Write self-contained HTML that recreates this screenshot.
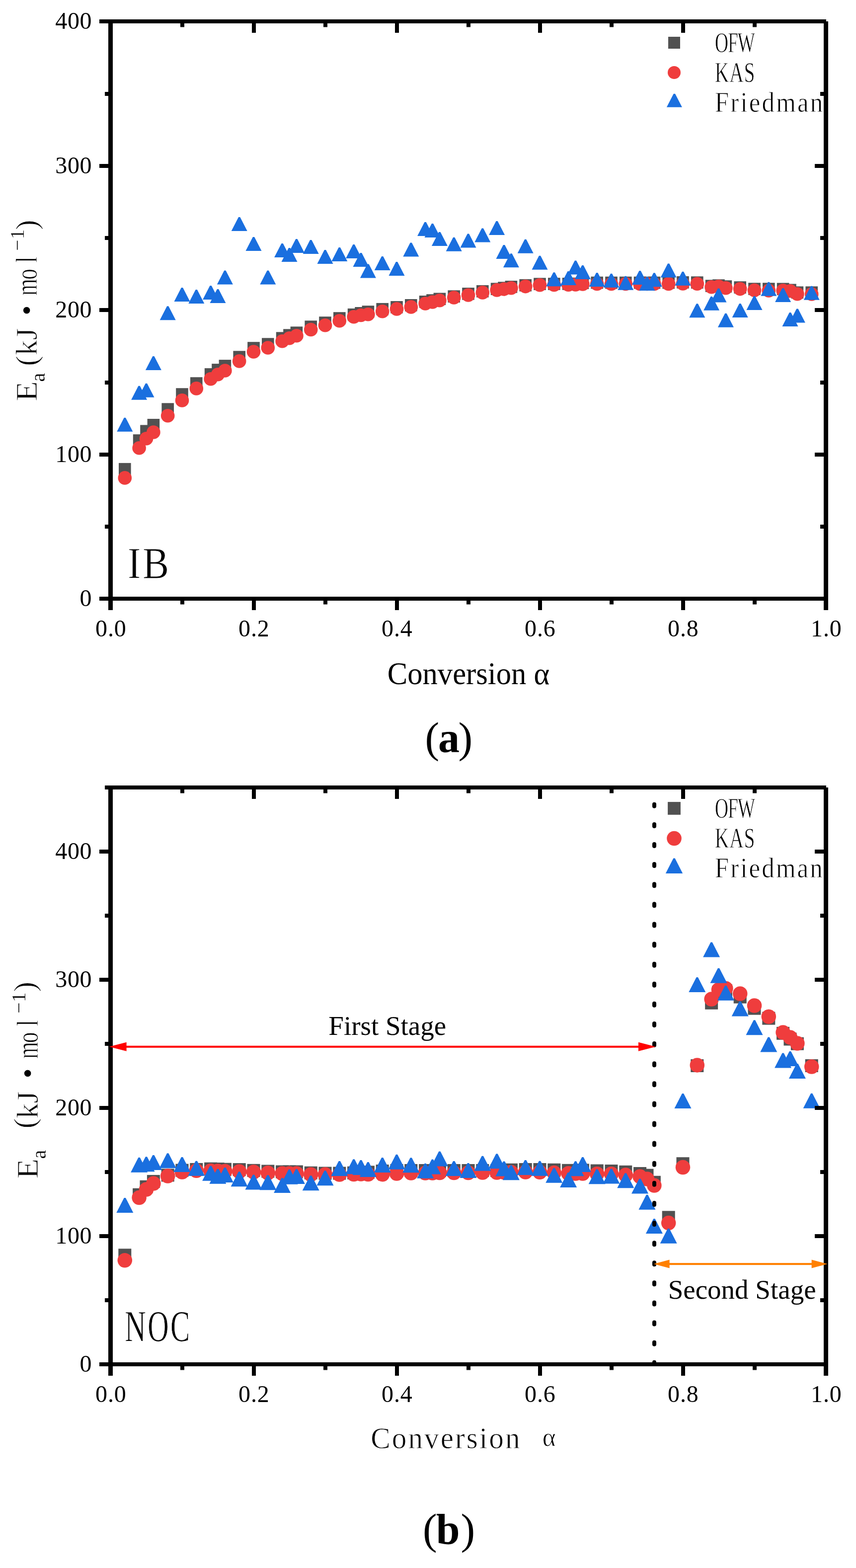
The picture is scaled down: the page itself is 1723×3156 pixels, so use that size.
<!DOCTYPE html>
<html><head><meta charset="utf-8"><title>Activation energy vs conversion</title>
<style>
html,body{margin:0;padding:0;background:#fff;}
svg{display:block;}
text{font-family:'Liberation Serif',serif;fill:#000;}
</style></head>
<body>
<svg width="1723" height="3156" viewBox="0 0 1723 3156">
<rect x="0" y="0" width="1723" height="3156" fill="#fff"/>
<g>
<rect x="239.00" y="931.90" width="24.60" height="24.60" fill="#515151"/>
<rect x="267.80" y="874.20" width="24.60" height="24.60" fill="#515151"/>
<rect x="282.20" y="855.40" width="24.60" height="24.60" fill="#515151"/>
<rect x="296.60" y="843.00" width="24.60" height="24.60" fill="#515151"/>
<rect x="325.40" y="811.30" width="24.60" height="24.60" fill="#515151"/>
<rect x="354.20" y="781.20" width="24.60" height="24.60" fill="#515151"/>
<rect x="383.00" y="759.20" width="24.60" height="24.60" fill="#515151"/>
<rect x="411.80" y="741.10" width="24.60" height="24.60" fill="#515151"/>
<rect x="426.20" y="732.10" width="24.60" height="24.60" fill="#515151"/>
<rect x="440.60" y="724.10" width="24.60" height="24.60" fill="#515151"/>
<rect x="469.40" y="706.30" width="24.60" height="24.60" fill="#515151"/>
<rect x="498.20" y="688.20" width="24.60" height="24.60" fill="#515151"/>
<rect x="527.00" y="680.30" width="24.60" height="24.60" fill="#515151"/>
<rect x="555.80" y="668.30" width="24.60" height="24.60" fill="#515151"/>
<rect x="570.20" y="662.30" width="24.60" height="24.60" fill="#515151"/>
<rect x="584.60" y="657.30" width="24.60" height="24.60" fill="#515151"/>
<rect x="613.40" y="645.30" width="24.60" height="24.60" fill="#515151"/>
<rect x="642.20" y="637.20" width="24.60" height="24.60" fill="#515151"/>
<rect x="671.00" y="628.20" width="24.60" height="24.60" fill="#515151"/>
<rect x="699.80" y="620.90" width="24.60" height="24.60" fill="#515151"/>
<rect x="714.20" y="618.00" width="24.60" height="24.60" fill="#515151"/>
<rect x="728.60" y="615.20" width="24.60" height="24.60" fill="#515151"/>
<rect x="757.40" y="609.90" width="24.60" height="24.60" fill="#515151"/>
<rect x="786.20" y="606.00" width="24.60" height="24.60" fill="#515151"/>
<rect x="815.00" y="602.00" width="24.60" height="24.60" fill="#515151"/>
<rect x="843.80" y="595.00" width="24.60" height="24.60" fill="#515151"/>
<rect x="858.20" y="592.20" width="24.60" height="24.60" fill="#515151"/>
<rect x="872.60" y="589.40" width="24.60" height="24.60" fill="#515151"/>
<rect x="901.40" y="584.30" width="24.60" height="24.60" fill="#515151"/>
<rect x="930.20" y="579.00" width="24.60" height="24.60" fill="#515151"/>
<rect x="959.00" y="574.00" width="24.60" height="24.60" fill="#515151"/>
<rect x="987.80" y="569.30" width="24.60" height="24.60" fill="#515151"/>
<rect x="1002.20" y="567.20" width="24.60" height="24.60" fill="#515151"/>
<rect x="1016.60" y="565.00" width="24.60" height="24.60" fill="#515151"/>
<rect x="1045.40" y="561.90" width="24.60" height="24.60" fill="#515151"/>
<rect x="1074.20" y="559.30" width="24.60" height="24.60" fill="#515151"/>
<rect x="1103.00" y="559.10" width="24.60" height="24.60" fill="#515151"/>
<rect x="1131.80" y="559.00" width="24.60" height="24.60" fill="#515151"/>
<rect x="1146.20" y="558.70" width="24.60" height="24.60" fill="#515151"/>
<rect x="1160.60" y="557.20" width="24.60" height="24.60" fill="#515151"/>
<rect x="1189.40" y="556.70" width="24.60" height="24.60" fill="#515151"/>
<rect x="1218.20" y="556.70" width="24.60" height="24.60" fill="#515151"/>
<rect x="1247.00" y="556.70" width="24.60" height="24.60" fill="#515151"/>
<rect x="1275.80" y="556.70" width="24.60" height="24.60" fill="#515151"/>
<rect x="1290.20" y="556.70" width="24.60" height="24.60" fill="#515151"/>
<rect x="1304.60" y="556.70" width="24.60" height="24.60" fill="#515151"/>
<rect x="1333.40" y="556.70" width="24.60" height="24.60" fill="#515151"/>
<rect x="1362.20" y="556.00" width="24.60" height="24.60" fill="#515151"/>
<rect x="1391.00" y="556.30" width="24.60" height="24.60" fill="#515151"/>
<rect x="1419.80" y="563.20" width="24.60" height="24.60" fill="#515151"/>
<rect x="1434.20" y="562.20" width="24.60" height="24.60" fill="#515151"/>
<rect x="1448.60" y="564.20" width="24.60" height="24.60" fill="#515151"/>
<rect x="1477.40" y="566.20" width="24.60" height="24.60" fill="#515151"/>
<rect x="1506.20" y="569.20" width="24.60" height="24.60" fill="#515151"/>
<rect x="1535.00" y="569.20" width="24.60" height="24.60" fill="#515151"/>
<rect x="1563.80" y="569.40" width="24.60" height="24.60" fill="#515151"/>
<rect x="1578.20" y="571.40" width="24.60" height="24.60" fill="#515151"/>
<rect x="1592.60" y="576.40" width="24.60" height="24.60" fill="#515151"/>
<rect x="1621.40" y="576.40" width="24.60" height="24.60" fill="#515151"/>
<circle cx="251.30" cy="961.90" r="13.80" fill="#ef3d3d"/>
<circle cx="280.10" cy="901.80" r="13.80" fill="#ef3d3d"/>
<circle cx="294.50" cy="882.80" r="13.80" fill="#ef3d3d"/>
<circle cx="308.90" cy="870.00" r="13.80" fill="#ef3d3d"/>
<circle cx="337.70" cy="836.70" r="13.80" fill="#ef3d3d"/>
<circle cx="366.50" cy="805.90" r="13.80" fill="#ef3d3d"/>
<circle cx="395.30" cy="781.90" r="13.80" fill="#ef3d3d"/>
<circle cx="424.10" cy="762.80" r="13.80" fill="#ef3d3d"/>
<circle cx="438.50" cy="753.80" r="13.80" fill="#ef3d3d"/>
<circle cx="452.90" cy="746.00" r="13.80" fill="#ef3d3d"/>
<circle cx="481.70" cy="726.90" r="13.80" fill="#ef3d3d"/>
<circle cx="510.50" cy="708.00" r="13.80" fill="#ef3d3d"/>
<circle cx="539.30" cy="700.00" r="13.80" fill="#ef3d3d"/>
<circle cx="568.10" cy="686.70" r="13.80" fill="#ef3d3d"/>
<circle cx="582.50" cy="680.70" r="13.80" fill="#ef3d3d"/>
<circle cx="596.90" cy="675.70" r="13.80" fill="#ef3d3d"/>
<circle cx="625.70" cy="663.50" r="13.80" fill="#ef3d3d"/>
<circle cx="654.50" cy="654.70" r="13.80" fill="#ef3d3d"/>
<circle cx="683.30" cy="645.70" r="13.80" fill="#ef3d3d"/>
<circle cx="712.10" cy="637.80" r="13.80" fill="#ef3d3d"/>
<circle cx="726.50" cy="634.50" r="13.80" fill="#ef3d3d"/>
<circle cx="740.90" cy="632.80" r="13.80" fill="#ef3d3d"/>
<circle cx="769.70" cy="626.80" r="13.80" fill="#ef3d3d"/>
<circle cx="798.50" cy="621.90" r="13.80" fill="#ef3d3d"/>
<circle cx="827.30" cy="617.90" r="13.80" fill="#ef3d3d"/>
<circle cx="856.10" cy="611.00" r="13.80" fill="#ef3d3d"/>
<circle cx="870.50" cy="608.00" r="13.80" fill="#ef3d3d"/>
<circle cx="884.90" cy="604.80" r="13.80" fill="#ef3d3d"/>
<circle cx="913.70" cy="599.00" r="13.80" fill="#ef3d3d"/>
<circle cx="942.50" cy="594.00" r="13.80" fill="#ef3d3d"/>
<circle cx="971.30" cy="588.90" r="13.80" fill="#ef3d3d"/>
<circle cx="1000.10" cy="583.90" r="13.80" fill="#ef3d3d"/>
<circle cx="1014.50" cy="582.00" r="13.80" fill="#ef3d3d"/>
<circle cx="1028.90" cy="579.70" r="13.80" fill="#ef3d3d"/>
<circle cx="1057.70" cy="576.60" r="13.80" fill="#ef3d3d"/>
<circle cx="1086.50" cy="573.80" r="13.80" fill="#ef3d3d"/>
<circle cx="1115.30" cy="573.50" r="13.80" fill="#ef3d3d"/>
<circle cx="1144.10" cy="573.30" r="13.80" fill="#ef3d3d"/>
<circle cx="1158.50" cy="573.00" r="13.80" fill="#ef3d3d"/>
<circle cx="1172.90" cy="572.00" r="13.80" fill="#ef3d3d"/>
<circle cx="1201.70" cy="571.50" r="13.80" fill="#ef3d3d"/>
<circle cx="1230.50" cy="571.50" r="13.80" fill="#ef3d3d"/>
<circle cx="1259.30" cy="571.50" r="13.80" fill="#ef3d3d"/>
<circle cx="1288.10" cy="571.50" r="13.80" fill="#ef3d3d"/>
<circle cx="1302.50" cy="571.50" r="13.80" fill="#ef3d3d"/>
<circle cx="1316.90" cy="571.50" r="13.80" fill="#ef3d3d"/>
<circle cx="1345.70" cy="571.40" r="13.80" fill="#ef3d3d"/>
<circle cx="1374.50" cy="571.00" r="13.80" fill="#ef3d3d"/>
<circle cx="1403.30" cy="571.20" r="13.80" fill="#ef3d3d"/>
<circle cx="1432.10" cy="577.80" r="13.80" fill="#ef3d3d"/>
<circle cx="1446.50" cy="576.50" r="13.80" fill="#ef3d3d"/>
<circle cx="1460.90" cy="579.80" r="13.80" fill="#ef3d3d"/>
<circle cx="1489.70" cy="581.60" r="13.80" fill="#ef3d3d"/>
<circle cx="1518.50" cy="584.30" r="13.80" fill="#ef3d3d"/>
<circle cx="1547.30" cy="585.00" r="13.80" fill="#ef3d3d"/>
<circle cx="1576.10" cy="584.70" r="13.80" fill="#ef3d3d"/>
<circle cx="1590.50" cy="585.70" r="13.80" fill="#ef3d3d"/>
<circle cx="1604.90" cy="591.70" r="13.80" fill="#ef3d3d"/>
<circle cx="1633.70" cy="592.00" r="13.80" fill="#ef3d3d"/>
<path d="M249.70 840.70L252.90 840.70L267.30 868.70L235.30 868.70Z" fill="#1a6fdf"/>
<path d="M278.50 776.80L281.70 776.80L296.10 804.80L264.10 804.80Z" fill="#1a6fdf"/>
<path d="M292.90 771.80L296.10 771.80L310.50 799.80L278.50 799.80Z" fill="#1a6fdf"/>
<path d="M307.30 717.10L310.50 717.10L324.90 745.10L292.90 745.10Z" fill="#1a6fdf"/>
<path d="M336.10 616.30L339.30 616.30L353.70 644.30L321.70 644.30Z" fill="#1a6fdf"/>
<path d="M364.90 579.00L368.10 579.00L382.50 607.00L350.50 607.00Z" fill="#1a6fdf"/>
<path d="M393.70 583.00L396.90 583.00L411.30 611.00L379.30 611.00Z" fill="#1a6fdf"/>
<path d="M422.50 575.00L425.70 575.00L440.10 603.00L408.10 603.00Z" fill="#1a6fdf"/>
<path d="M436.90 582.00L440.10 582.00L454.50 610.00L422.50 610.00Z" fill="#1a6fdf"/>
<path d="M451.30 544.50L454.50 544.50L468.90 572.50L436.90 572.50Z" fill="#1a6fdf"/>
<path d="M480.10 437.00L483.30 437.00L497.70 465.00L465.70 465.00Z" fill="#1a6fdf"/>
<path d="M508.90 477.00L512.10 477.00L526.50 505.00L494.50 505.00Z" fill="#1a6fdf"/>
<path d="M537.70 544.50L540.90 544.50L555.30 572.50L523.30 572.50Z" fill="#1a6fdf"/>
<path d="M566.50 490.00L569.70 490.00L584.10 518.00L552.10 518.00Z" fill="#1a6fdf"/>
<path d="M580.90 499.00L584.10 499.00L598.50 527.00L566.50 527.00Z" fill="#1a6fdf"/>
<path d="M595.30 481.00L598.50 481.00L612.90 509.00L580.90 509.00Z" fill="#1a6fdf"/>
<path d="M624.10 483.00L627.30 483.00L641.70 511.00L609.70 511.00Z" fill="#1a6fdf"/>
<path d="M652.90 503.00L656.10 503.00L670.50 531.00L638.50 531.00Z" fill="#1a6fdf"/>
<path d="M681.70 498.00L684.90 498.00L699.30 526.00L667.30 526.00Z" fill="#1a6fdf"/>
<path d="M710.50 492.00L713.70 492.00L728.10 520.00L696.10 520.00Z" fill="#1a6fdf"/>
<path d="M724.90 509.00L728.10 509.00L742.50 537.00L710.50 537.00Z" fill="#1a6fdf"/>
<path d="M739.30 531.50L742.50 531.50L756.90 559.50L724.90 559.50Z" fill="#1a6fdf"/>
<path d="M768.10 516.00L771.30 516.00L785.70 544.00L753.70 544.00Z" fill="#1a6fdf"/>
<path d="M796.90 527.00L800.10 527.00L814.50 555.00L782.50 555.00Z" fill="#1a6fdf"/>
<path d="M825.70 488.50L828.90 488.50L843.30 516.50L811.30 516.50Z" fill="#1a6fdf"/>
<path d="M854.50 447.00L857.70 447.00L872.10 475.00L840.10 475.00Z" fill="#1a6fdf"/>
<path d="M868.90 450.00L872.10 450.00L886.50 478.00L854.50 478.00Z" fill="#1a6fdf"/>
<path d="M883.30 467.00L886.50 467.00L900.90 495.00L868.90 495.00Z" fill="#1a6fdf"/>
<path d="M912.10 477.80L915.30 477.80L929.70 505.80L897.70 505.80Z" fill="#1a6fdf"/>
<path d="M940.90 470.50L944.10 470.50L958.50 498.50L926.50 498.50Z" fill="#1a6fdf"/>
<path d="M969.70 459.40L972.90 459.40L987.30 487.40L955.30 487.40Z" fill="#1a6fdf"/>
<path d="M998.50 445.00L1001.70 445.00L1016.10 473.00L984.10 473.00Z" fill="#1a6fdf"/>
<path d="M1012.90 493.00L1016.10 493.00L1030.50 521.00L998.50 521.00Z" fill="#1a6fdf"/>
<path d="M1027.30 510.30L1030.50 510.30L1044.90 538.30L1012.90 538.30Z" fill="#1a6fdf"/>
<path d="M1056.10 481.80L1059.30 481.80L1073.70 509.80L1041.70 509.80Z" fill="#1a6fdf"/>
<path d="M1084.90 514.80L1088.10 514.80L1102.50 542.80L1070.50 542.80Z" fill="#1a6fdf"/>
<path d="M1113.70 548.20L1116.90 548.20L1131.30 576.20L1099.30 576.20Z" fill="#1a6fdf"/>
<path d="M1142.50 546.00L1145.70 546.00L1160.10 574.00L1128.10 574.00Z" fill="#1a6fdf"/>
<path d="M1156.90 524.50L1160.10 524.50L1174.50 552.50L1142.50 552.50Z" fill="#1a6fdf"/>
<path d="M1171.30 534.00L1174.50 534.00L1188.90 562.00L1156.90 562.00Z" fill="#1a6fdf"/>
<path d="M1200.10 549.00L1203.30 549.00L1217.70 577.00L1185.70 577.00Z" fill="#1a6fdf"/>
<path d="M1228.90 550.80L1232.10 550.80L1246.50 578.80L1214.50 578.80Z" fill="#1a6fdf"/>
<path d="M1257.70 555.80L1260.90 555.80L1275.30 583.80L1243.30 583.80Z" fill="#1a6fdf"/>
<path d="M1286.50 545.00L1289.70 545.00L1304.10 573.00L1272.10 573.00Z" fill="#1a6fdf"/>
<path d="M1300.90 556.90L1304.10 556.90L1318.50 584.90L1286.50 584.90Z" fill="#1a6fdf"/>
<path d="M1315.30 549.20L1318.50 549.20L1332.90 577.20L1300.90 577.20Z" fill="#1a6fdf"/>
<path d="M1344.10 530.60L1347.30 530.60L1361.70 558.60L1329.70 558.60Z" fill="#1a6fdf"/>
<path d="M1372.90 546.80L1376.10 546.80L1390.50 574.80L1358.50 574.80Z" fill="#1a6fdf"/>
<path d="M1401.70 611.30L1404.90 611.30L1419.30 639.30L1387.30 639.30Z" fill="#1a6fdf"/>
<path d="M1430.50 596.70L1433.70 596.70L1448.10 624.70L1416.10 624.70Z" fill="#1a6fdf"/>
<path d="M1444.90 580.50L1448.10 580.50L1462.50 608.50L1430.50 608.50Z" fill="#1a6fdf"/>
<path d="M1459.30 630.80L1462.50 630.80L1476.90 658.80L1444.90 658.80Z" fill="#1a6fdf"/>
<path d="M1488.10 610.90L1491.30 610.90L1505.70 638.90L1473.70 638.90Z" fill="#1a6fdf"/>
<path d="M1516.90 596.00L1520.10 596.00L1534.50 624.00L1502.50 624.00Z" fill="#1a6fdf"/>
<path d="M1545.70 567.80L1548.90 567.80L1563.30 595.80L1531.30 595.80Z" fill="#1a6fdf"/>
<path d="M1574.50 580.00L1577.70 580.00L1592.10 608.00L1560.10 608.00Z" fill="#1a6fdf"/>
<path d="M1588.90 629.00L1592.10 629.00L1606.50 657.00L1574.50 657.00Z" fill="#1a6fdf"/>
<path d="M1603.30 621.40L1606.50 621.40L1620.90 649.40L1588.90 649.40Z" fill="#1a6fdf"/>
<path d="M1632.10 575.80L1635.30 575.80L1649.70 603.80L1617.70 603.80Z" fill="#1a6fdf"/>
</g>
<rect x="218.00" y="39.00" width="1445.00" height="8.00" fill="#000"/>
<rect x="218.00" y="1201.00" width="1449.00" height="8.00" fill="#000"/>
<rect x="218.00" y="39.00" width="9.00" height="1170.00" fill="#000"/>
<rect x="1658.00" y="43.00" width="9.00" height="1166.00" fill="#000"/>
<rect x="200.00" y="1201.00" width="18.00" height="8.00" fill="#000"/>
<rect x="1640.00" y="1201.00" width="18.00" height="8.00" fill="#000"/>
<rect x="211.00" y="1056.00" width="7.00" height="8.00" fill="#000"/>
<rect x="1651.00" y="1056.00" width="7.00" height="8.00" fill="#000"/>
<rect x="200.00" y="911.00" width="18.00" height="8.00" fill="#000"/>
<rect x="1640.00" y="911.00" width="18.00" height="8.00" fill="#000"/>
<rect x="211.00" y="766.00" width="7.00" height="8.00" fill="#000"/>
<rect x="1651.00" y="766.00" width="7.00" height="8.00" fill="#000"/>
<rect x="200.00" y="620.00" width="18.00" height="8.00" fill="#000"/>
<rect x="1640.00" y="620.00" width="18.00" height="8.00" fill="#000"/>
<rect x="211.00" y="475.00" width="7.00" height="8.00" fill="#000"/>
<rect x="1651.00" y="475.00" width="7.00" height="8.00" fill="#000"/>
<rect x="200.00" y="330.00" width="18.00" height="8.00" fill="#000"/>
<rect x="1640.00" y="330.00" width="18.00" height="8.00" fill="#000"/>
<rect x="211.00" y="185.00" width="7.00" height="8.00" fill="#000"/>
<rect x="1651.00" y="185.00" width="7.00" height="8.00" fill="#000"/>
<rect x="200.00" y="39.00" width="18.00" height="8.00" fill="#000"/>
<rect x="1640.00" y="39.00" width="18.00" height="8.00" fill="#000"/>
<rect x="218.00" y="1209.00" width="9.00" height="19.00" fill="#000"/>
<rect x="218.00" y="47.00" width="9.00" height="19.00" fill="#000"/>
<rect x="363.00" y="1209.00" width="8.00" height="7.50" fill="#000"/>
<rect x="363.00" y="47.00" width="8.00" height="7.50" fill="#000"/>
<rect x="507.00" y="1209.00" width="8.00" height="19.00" fill="#000"/>
<rect x="507.00" y="47.00" width="8.00" height="19.00" fill="#000"/>
<rect x="651.00" y="1209.00" width="8.00" height="7.50" fill="#000"/>
<rect x="651.00" y="47.00" width="8.00" height="7.50" fill="#000"/>
<rect x="795.00" y="1209.00" width="8.00" height="19.00" fill="#000"/>
<rect x="795.00" y="47.00" width="8.00" height="19.00" fill="#000"/>
<rect x="939.00" y="1209.00" width="8.00" height="7.50" fill="#000"/>
<rect x="939.00" y="47.00" width="8.00" height="7.50" fill="#000"/>
<rect x="1083.00" y="1209.00" width="8.00" height="19.00" fill="#000"/>
<rect x="1083.00" y="47.00" width="8.00" height="19.00" fill="#000"/>
<rect x="1227.00" y="1209.00" width="8.00" height="7.50" fill="#000"/>
<rect x="1227.00" y="47.00" width="8.00" height="7.50" fill="#000"/>
<rect x="1371.00" y="1209.00" width="8.00" height="19.00" fill="#000"/>
<rect x="1371.00" y="47.00" width="8.00" height="19.00" fill="#000"/>
<rect x="1515.00" y="1209.00" width="8.00" height="7.50" fill="#000"/>
<rect x="1515.00" y="47.00" width="8.00" height="7.50" fill="#000"/>
<rect x="1658.00" y="1209.00" width="9.00" height="19.00" fill="#000"/>
<rect x="1658.00" y="47.00" width="9.00" height="19.00" fill="#000"/>
<text x="185.3" y="1220.4" font-size="48" letter-spacing="0.7" text-anchor="end">0</text>
<text x="185.3" y="929.9" font-size="48" letter-spacing="0.7" text-anchor="end">100</text>
<text x="185.3" y="639.4" font-size="48" letter-spacing="0.7" text-anchor="end">200</text>
<text x="185.3" y="348.9" font-size="48" letter-spacing="0.7" text-anchor="end">300</text>
<text x="185.3" y="58.4" font-size="48" letter-spacing="0.7" text-anchor="end">400</text>
<text x="223.4" y="1280.8" font-size="48" letter-spacing="0.9" text-anchor="middle">0.0</text>
<text x="511.4" y="1280.8" font-size="48" letter-spacing="0.9" text-anchor="middle">0.2</text>
<text x="799.4" y="1280.8" font-size="48" letter-spacing="0.9" text-anchor="middle">0.4</text>
<text x="1087.4" y="1280.8" font-size="48" letter-spacing="0.9" text-anchor="middle">0.6</text>
<text x="1375.4" y="1280.8" font-size="48" letter-spacing="0.9" text-anchor="middle">0.8</text>
<text x="1663.4" y="1280.8" font-size="48" letter-spacing="0.9" text-anchor="middle">1.0</text>
<rect x="1345.00" y="74.00" width="24.00" height="24.00" fill="#515151"/>
<circle cx="1357.00" cy="146.00" r="13.00" fill="#ef3d3d"/>
<path d="M1355.80 188.70L1359.00 188.70L1372.90 215.70L1341.90 215.70Z" fill="#1a6fdf"/>
<text transform="scale(0.66,1)" x="2180.41 2219.57 2249.36" y="105.1" font-size="56.5" stroke="#fff" stroke-width="0.9">OFW</text>
<text transform="scale(0.7,1)" x="2055.52 2097.37 2139.22" y="165.1" font-size="56.5" stroke="#fff" stroke-width="0.9">KAS</text>
<text transform="scale(0.9,1)" x="1598.71 1633.69 1656.07 1675.33 1703.97 1735.79 1783.3 1811.94" y="225.4" font-size="56.5" stroke="#fff" stroke-width="0.9">Friedman</text>
<text transform="scale(0.9,1)" x="285.69 318.85" y="1163.0" font-size="88.5" stroke="#fff" stroke-width="0.9">IB</text>
<text transform="translate(943,1376.8) scale(0.97,1)" x="0" y="0" font-size="62.5" text-anchor="middle">Conversion α</text>
<text x="855.5 882.1 922.6" y="1514.2" font-size="86">(<tspan font-weight="bold">a</tspan>)</text>
<g>
<rect x="238.30" y="2513.30" width="26.00" height="26.00" fill="#515151"/>
<rect x="267.10" y="2391.70" width="26.00" height="26.00" fill="#515151"/>
<rect x="281.50" y="2375.70" width="26.00" height="26.00" fill="#515151"/>
<rect x="295.90" y="2364.90" width="26.00" height="26.00" fill="#515151"/>
<rect x="324.70" y="2352.40" width="26.00" height="26.00" fill="#515151"/>
<rect x="353.50" y="2342.60" width="26.00" height="26.00" fill="#515151"/>
<rect x="382.30" y="2340.90" width="26.00" height="26.00" fill="#515151"/>
<rect x="411.10" y="2339.60" width="26.00" height="26.00" fill="#515151"/>
<rect x="425.50" y="2340.00" width="26.00" height="26.00" fill="#515151"/>
<rect x="439.90" y="2340.60" width="26.00" height="26.00" fill="#515151"/>
<rect x="468.70" y="2341.10" width="26.00" height="26.00" fill="#515151"/>
<rect x="497.50" y="2342.80" width="26.00" height="26.00" fill="#515151"/>
<rect x="526.30" y="2344.50" width="26.00" height="26.00" fill="#515151"/>
<rect x="555.10" y="2345.50" width="26.00" height="26.00" fill="#515151"/>
<rect x="569.50" y="2345.50" width="26.00" height="26.00" fill="#515151"/>
<rect x="583.90" y="2345.50" width="26.00" height="26.00" fill="#515151"/>
<rect x="612.70" y="2347.70" width="26.00" height="26.00" fill="#515151"/>
<rect x="641.50" y="2348.50" width="26.00" height="26.00" fill="#515151"/>
<rect x="670.30" y="2348.50" width="26.00" height="26.00" fill="#515151"/>
<rect x="699.10" y="2347.70" width="26.00" height="26.00" fill="#515151"/>
<rect x="713.50" y="2347.00" width="26.00" height="26.00" fill="#515151"/>
<rect x="727.90" y="2346.40" width="26.00" height="26.00" fill="#515151"/>
<rect x="756.70" y="2344.00" width="26.00" height="26.00" fill="#515151"/>
<rect x="785.50" y="2343.00" width="26.00" height="26.00" fill="#515151"/>
<rect x="814.30" y="2343.00" width="26.00" height="26.00" fill="#515151"/>
<rect x="843.10" y="2343.00" width="26.00" height="26.00" fill="#515151"/>
<rect x="857.50" y="2343.00" width="26.00" height="26.00" fill="#515151"/>
<rect x="871.90" y="2343.00" width="26.00" height="26.00" fill="#515151"/>
<rect x="900.70" y="2343.00" width="26.00" height="26.00" fill="#515151"/>
<rect x="929.50" y="2343.00" width="26.00" height="26.00" fill="#515151"/>
<rect x="958.30" y="2343.00" width="26.00" height="26.00" fill="#515151"/>
<rect x="987.10" y="2343.00" width="26.00" height="26.00" fill="#515151"/>
<rect x="1001.50" y="2342.00" width="26.00" height="26.00" fill="#515151"/>
<rect x="1015.90" y="2341.70" width="26.00" height="26.00" fill="#515151"/>
<rect x="1044.70" y="2341.00" width="26.00" height="26.00" fill="#515151"/>
<rect x="1073.50" y="2341.00" width="26.00" height="26.00" fill="#515151"/>
<rect x="1102.30" y="2341.70" width="26.00" height="26.00" fill="#515151"/>
<rect x="1131.10" y="2342.80" width="26.00" height="26.00" fill="#515151"/>
<rect x="1145.50" y="2343.00" width="26.00" height="26.00" fill="#515151"/>
<rect x="1159.90" y="2342.40" width="26.00" height="26.00" fill="#515151"/>
<rect x="1188.70" y="2343.50" width="26.00" height="26.00" fill="#515151"/>
<rect x="1217.50" y="2344.00" width="26.00" height="26.00" fill="#515151"/>
<rect x="1246.30" y="2345.80" width="26.00" height="26.00" fill="#515151"/>
<rect x="1275.10" y="2349.00" width="26.00" height="26.00" fill="#515151"/>
<rect x="1289.50" y="2352.60" width="26.00" height="26.00" fill="#515151"/>
<rect x="1303.90" y="2366.70" width="26.00" height="26.00" fill="#515151"/>
<rect x="1332.70" y="2437.30" width="26.00" height="26.00" fill="#515151"/>
<rect x="1361.50" y="2329.20" width="26.00" height="26.00" fill="#515151"/>
<rect x="1390.30" y="2132.00" width="26.00" height="26.00" fill="#515151"/>
<rect x="1419.10" y="2005.70" width="26.00" height="26.00" fill="#515151"/>
<rect x="1433.50" y="1984.00" width="26.00" height="26.00" fill="#515151"/>
<rect x="1447.90" y="1981.00" width="26.00" height="26.00" fill="#515151"/>
<rect x="1476.70" y="1993.60" width="26.00" height="26.00" fill="#515151"/>
<rect x="1505.50" y="2016.60" width="26.00" height="26.00" fill="#515151"/>
<rect x="1534.30" y="2036.60" width="26.00" height="26.00" fill="#515151"/>
<rect x="1563.10" y="2066.80" width="26.00" height="26.00" fill="#515151"/>
<rect x="1577.50" y="2078.50" width="26.00" height="26.00" fill="#515151"/>
<rect x="1591.90" y="2087.70" width="26.00" height="26.00" fill="#515151"/>
<rect x="1620.70" y="2132.00" width="26.00" height="26.00" fill="#515151"/>
<circle cx="251.30" cy="2536.70" r="14.75" fill="#ef3d3d"/>
<circle cx="280.10" cy="2410.50" r="14.75" fill="#ef3d3d"/>
<circle cx="294.50" cy="2394.00" r="14.75" fill="#ef3d3d"/>
<circle cx="308.90" cy="2382.00" r="14.75" fill="#ef3d3d"/>
<circle cx="337.70" cy="2367.00" r="14.75" fill="#ef3d3d"/>
<circle cx="366.50" cy="2359.00" r="14.75" fill="#ef3d3d"/>
<circle cx="395.30" cy="2356.30" r="14.75" fill="#ef3d3d"/>
<circle cx="424.10" cy="2356.60" r="14.75" fill="#ef3d3d"/>
<circle cx="438.50" cy="2357.00" r="14.75" fill="#ef3d3d"/>
<circle cx="452.90" cy="2357.50" r="14.75" fill="#ef3d3d"/>
<circle cx="481.70" cy="2358.00" r="14.75" fill="#ef3d3d"/>
<circle cx="510.50" cy="2359.00" r="14.75" fill="#ef3d3d"/>
<circle cx="539.30" cy="2360.70" r="14.75" fill="#ef3d3d"/>
<circle cx="568.10" cy="2362.00" r="14.75" fill="#ef3d3d"/>
<circle cx="582.50" cy="2362.00" r="14.75" fill="#ef3d3d"/>
<circle cx="596.90" cy="2362.00" r="14.75" fill="#ef3d3d"/>
<circle cx="625.70" cy="2364.00" r="14.75" fill="#ef3d3d"/>
<circle cx="654.50" cy="2364.10" r="14.75" fill="#ef3d3d"/>
<circle cx="683.30" cy="2364.00" r="14.75" fill="#ef3d3d"/>
<circle cx="712.10" cy="2363.50" r="14.75" fill="#ef3d3d"/>
<circle cx="726.50" cy="2363.00" r="14.75" fill="#ef3d3d"/>
<circle cx="740.90" cy="2363.50" r="14.75" fill="#ef3d3d"/>
<circle cx="769.70" cy="2363.70" r="14.75" fill="#ef3d3d"/>
<circle cx="798.50" cy="2362.00" r="14.75" fill="#ef3d3d"/>
<circle cx="827.30" cy="2361.00" r="14.75" fill="#ef3d3d"/>
<circle cx="856.10" cy="2361.00" r="14.75" fill="#ef3d3d"/>
<circle cx="870.50" cy="2361.00" r="14.75" fill="#ef3d3d"/>
<circle cx="884.90" cy="2360.50" r="14.75" fill="#ef3d3d"/>
<circle cx="913.70" cy="2360.50" r="14.75" fill="#ef3d3d"/>
<circle cx="942.50" cy="2360.50" r="14.75" fill="#ef3d3d"/>
<circle cx="971.30" cy="2360.00" r="14.75" fill="#ef3d3d"/>
<circle cx="1000.10" cy="2360.00" r="14.75" fill="#ef3d3d"/>
<circle cx="1014.50" cy="2359.50" r="14.75" fill="#ef3d3d"/>
<circle cx="1028.90" cy="2359.40" r="14.75" fill="#ef3d3d"/>
<circle cx="1057.70" cy="2359.00" r="14.75" fill="#ef3d3d"/>
<circle cx="1086.50" cy="2359.30" r="14.75" fill="#ef3d3d"/>
<circle cx="1115.30" cy="2360.60" r="14.75" fill="#ef3d3d"/>
<circle cx="1144.10" cy="2361.70" r="14.75" fill="#ef3d3d"/>
<circle cx="1158.50" cy="2362.00" r="14.75" fill="#ef3d3d"/>
<circle cx="1172.90" cy="2362.00" r="14.75" fill="#ef3d3d"/>
<circle cx="1201.70" cy="2362.80" r="14.75" fill="#ef3d3d"/>
<circle cx="1230.50" cy="2362.80" r="14.75" fill="#ef3d3d"/>
<circle cx="1259.30" cy="2365.10" r="14.75" fill="#ef3d3d"/>
<circle cx="1288.10" cy="2368.10" r="14.75" fill="#ef3d3d"/>
<circle cx="1302.50" cy="2373.00" r="14.75" fill="#ef3d3d"/>
<circle cx="1316.90" cy="2386.00" r="14.75" fill="#ef3d3d"/>
<circle cx="1345.70" cy="2461.60" r="14.75" fill="#ef3d3d"/>
<circle cx="1374.50" cy="2349.50" r="14.75" fill="#ef3d3d"/>
<circle cx="1403.30" cy="2143.90" r="14.75" fill="#ef3d3d"/>
<circle cx="1432.10" cy="2011.00" r="14.75" fill="#ef3d3d"/>
<circle cx="1446.50" cy="1992.00" r="14.75" fill="#ef3d3d"/>
<circle cx="1460.90" cy="1989.50" r="14.75" fill="#ef3d3d"/>
<circle cx="1489.70" cy="2000.00" r="14.75" fill="#ef3d3d"/>
<circle cx="1518.50" cy="2024.00" r="14.75" fill="#ef3d3d"/>
<circle cx="1547.30" cy="2046.20" r="14.75" fill="#ef3d3d"/>
<circle cx="1576.10" cy="2078.00" r="14.75" fill="#ef3d3d"/>
<circle cx="1590.50" cy="2088.00" r="14.75" fill="#ef3d3d"/>
<circle cx="1604.90" cy="2100.00" r="14.75" fill="#ef3d3d"/>
<circle cx="1633.70" cy="2147.00" r="14.75" fill="#ef3d3d"/>
<path d="M249.70 2410.90L252.90 2410.90L268.30 2440.90L234.30 2440.90Z" fill="#1a6fdf"/>
<path d="M278.50 2329.70L281.70 2329.70L297.10 2359.70L263.10 2359.70Z" fill="#1a6fdf"/>
<path d="M292.90 2328.30L296.10 2328.30L311.50 2358.30L277.50 2358.30Z" fill="#1a6fdf"/>
<path d="M307.30 2325.00L310.50 2325.00L325.90 2355.00L291.90 2355.00Z" fill="#1a6fdf"/>
<path d="M336.10 2321.30L339.30 2321.30L354.70 2351.30L320.70 2351.30Z" fill="#1a6fdf"/>
<path d="M364.90 2329.00L368.10 2329.00L383.50 2359.00L349.50 2359.00Z" fill="#1a6fdf"/>
<path d="M393.70 2336.70L396.90 2336.70L412.30 2366.70L378.30 2366.70Z" fill="#1a6fdf"/>
<path d="M422.50 2346.70L425.70 2346.70L441.10 2376.70L407.10 2376.70Z" fill="#1a6fdf"/>
<path d="M436.90 2352.70L440.10 2352.70L455.50 2382.70L421.50 2382.70Z" fill="#1a6fdf"/>
<path d="M451.30 2350.00L454.50 2350.00L469.90 2380.00L435.90 2380.00Z" fill="#1a6fdf"/>
<path d="M480.10 2358.20L483.30 2358.20L498.70 2388.20L464.70 2388.20Z" fill="#1a6fdf"/>
<path d="M508.90 2364.60L512.10 2364.60L527.50 2394.60L493.50 2394.60Z" fill="#1a6fdf"/>
<path d="M537.70 2365.20L540.90 2365.20L556.30 2395.20L522.30 2395.20Z" fill="#1a6fdf"/>
<path d="M566.50 2371.00L569.70 2371.00L585.10 2401.00L551.10 2401.00Z" fill="#1a6fdf"/>
<path d="M580.90 2353.80L584.10 2353.80L599.50 2383.80L565.50 2383.80Z" fill="#1a6fdf"/>
<path d="M595.30 2353.00L598.50 2353.00L613.90 2383.00L579.90 2383.00Z" fill="#1a6fdf"/>
<path d="M624.10 2366.30L627.30 2366.30L642.70 2396.30L608.70 2396.30Z" fill="#1a6fdf"/>
<path d="M652.90 2356.20L656.10 2356.20L671.50 2386.20L637.50 2386.20Z" fill="#1a6fdf"/>
<path d="M681.70 2337.00L684.90 2337.00L700.30 2367.00L666.30 2367.00Z" fill="#1a6fdf"/>
<path d="M710.50 2333.30L713.70 2333.30L729.10 2363.30L695.10 2363.30Z" fill="#1a6fdf"/>
<path d="M724.90 2335.00L728.10 2335.00L743.50 2365.00L709.50 2365.00Z" fill="#1a6fdf"/>
<path d="M739.30 2339.00L742.50 2339.00L757.90 2369.00L723.90 2369.00Z" fill="#1a6fdf"/>
<path d="M768.10 2329.90L771.30 2329.90L786.70 2359.90L752.70 2359.90Z" fill="#1a6fdf"/>
<path d="M796.90 2323.70L800.10 2323.70L815.50 2353.70L781.50 2353.70Z" fill="#1a6fdf"/>
<path d="M825.70 2330.30L828.90 2330.30L844.30 2360.30L810.30 2360.30Z" fill="#1a6fdf"/>
<path d="M854.50 2341.80L857.70 2341.80L873.10 2371.80L839.10 2371.80Z" fill="#1a6fdf"/>
<path d="M868.90 2333.50L872.10 2333.50L887.50 2363.50L853.50 2363.50Z" fill="#1a6fdf"/>
<path d="M883.30 2317.50L886.50 2317.50L901.90 2347.50L867.90 2347.50Z" fill="#1a6fdf"/>
<path d="M912.10 2337.00L915.30 2337.00L930.70 2367.00L896.70 2367.00Z" fill="#1a6fdf"/>
<path d="M940.90 2341.00L944.10 2341.00L959.50 2371.00L925.50 2371.00Z" fill="#1a6fdf"/>
<path d="M969.70 2326.80L972.90 2326.80L988.30 2356.80L954.30 2356.80Z" fill="#1a6fdf"/>
<path d="M998.50 2322.30L1001.70 2322.30L1017.10 2352.30L983.10 2352.30Z" fill="#1a6fdf"/>
<path d="M1012.90 2337.60L1016.10 2337.60L1031.50 2367.60L997.50 2367.60Z" fill="#1a6fdf"/>
<path d="M1027.30 2345.20L1030.50 2345.20L1045.90 2375.20L1011.90 2375.20Z" fill="#1a6fdf"/>
<path d="M1056.10 2335.10L1059.30 2335.10L1074.70 2365.10L1040.70 2365.10Z" fill="#1a6fdf"/>
<path d="M1084.90 2336.80L1088.10 2336.80L1103.50 2366.80L1069.50 2366.80Z" fill="#1a6fdf"/>
<path d="M1113.70 2350.70L1116.90 2350.70L1132.30 2380.70L1098.30 2380.70Z" fill="#1a6fdf"/>
<path d="M1142.50 2360.10L1145.70 2360.10L1161.10 2390.10L1127.10 2390.10Z" fill="#1a6fdf"/>
<path d="M1156.90 2337.30L1160.10 2337.30L1175.50 2367.30L1141.50 2367.30Z" fill="#1a6fdf"/>
<path d="M1171.30 2328.90L1174.50 2328.90L1189.90 2358.90L1155.90 2358.90Z" fill="#1a6fdf"/>
<path d="M1200.10 2353.30L1203.30 2353.30L1218.70 2383.30L1184.70 2383.30Z" fill="#1a6fdf"/>
<path d="M1228.90 2352.40L1232.10 2352.40L1247.50 2382.40L1213.50 2382.40Z" fill="#1a6fdf"/>
<path d="M1257.70 2361.20L1260.90 2361.20L1276.30 2391.20L1242.30 2391.20Z" fill="#1a6fdf"/>
<path d="M1286.50 2372.40L1289.70 2372.40L1305.10 2402.40L1271.10 2402.40Z" fill="#1a6fdf"/>
<path d="M1300.90 2404.80L1304.10 2404.80L1319.50 2434.80L1285.50 2434.80Z" fill="#1a6fdf"/>
<path d="M1315.30 2453.10L1318.50 2453.10L1333.90 2483.10L1299.90 2483.10Z" fill="#1a6fdf"/>
<path d="M1344.10 2472.80L1347.30 2472.80L1362.70 2502.80L1328.70 2502.80Z" fill="#1a6fdf"/>
<path d="M1372.90 2200.90L1376.10 2200.90L1391.50 2230.90L1357.50 2230.90Z" fill="#1a6fdf"/>
<path d="M1401.70 1966.90L1404.90 1966.90L1420.30 1996.90L1386.30 1996.90Z" fill="#1a6fdf"/>
<path d="M1430.50 1896.40L1433.70 1896.40L1449.10 1926.40L1415.10 1926.40Z" fill="#1a6fdf"/>
<path d="M1444.90 1948.80L1448.10 1948.80L1463.50 1978.80L1429.50 1978.80Z" fill="#1a6fdf"/>
<path d="M1459.30 1983.70L1462.50 1983.70L1477.90 2013.70L1443.90 2013.70Z" fill="#1a6fdf"/>
<path d="M1488.10 2015.60L1491.30 2015.60L1506.70 2045.60L1472.70 2045.60Z" fill="#1a6fdf"/>
<path d="M1516.90 2053.30L1520.10 2053.30L1535.50 2083.30L1501.50 2083.30Z" fill="#1a6fdf"/>
<path d="M1545.70 2087.40L1548.90 2087.40L1564.30 2117.40L1530.30 2117.40Z" fill="#1a6fdf"/>
<path d="M1574.50 2119.40L1577.70 2119.40L1593.10 2149.40L1559.10 2149.40Z" fill="#1a6fdf"/>
<path d="M1588.90 2116.00L1592.10 2116.00L1607.50 2146.00L1573.50 2146.00Z" fill="#1a6fdf"/>
<path d="M1603.30 2141.00L1606.50 2141.00L1621.90 2171.00L1587.90 2171.00Z" fill="#1a6fdf"/>
<path d="M1632.10 2200.80L1635.30 2200.80L1650.70 2230.80L1616.70 2230.80Z" fill="#1a6fdf"/>
</g>
<line x1="1317" y1="1618.8" x2="1317" y2="2746" stroke="#000" stroke-width="8" stroke-linecap="round" stroke-dasharray="4 36.107"/>
<rect x="218.00" y="1581.00" width="1445.00" height="8.00" fill="#000"/>
<rect x="218.00" y="2742.00" width="1449.00" height="8.00" fill="#000"/>
<rect x="218.00" y="1581.00" width="9.00" height="1169.00" fill="#000"/>
<rect x="1658.00" y="1585.00" width="9.00" height="1165.00" fill="#000"/>
<rect x="200.00" y="2742.00" width="18.00" height="8.00" fill="#000"/>
<rect x="1640.00" y="2742.00" width="18.00" height="8.00" fill="#000"/>
<rect x="211.00" y="2613.00" width="7.00" height="8.00" fill="#000"/>
<rect x="1651.00" y="2613.00" width="7.00" height="8.00" fill="#000"/>
<rect x="200.00" y="2484.00" width="18.00" height="8.00" fill="#000"/>
<rect x="1640.00" y="2484.00" width="18.00" height="8.00" fill="#000"/>
<rect x="211.00" y="2355.00" width="7.00" height="8.00" fill="#000"/>
<rect x="1651.00" y="2355.00" width="7.00" height="8.00" fill="#000"/>
<rect x="200.00" y="2226.00" width="18.00" height="8.00" fill="#000"/>
<rect x="1640.00" y="2226.00" width="18.00" height="8.00" fill="#000"/>
<rect x="211.00" y="2097.00" width="7.00" height="8.00" fill="#000"/>
<rect x="1651.00" y="2097.00" width="7.00" height="8.00" fill="#000"/>
<rect x="200.00" y="1968.00" width="18.00" height="8.00" fill="#000"/>
<rect x="1640.00" y="1968.00" width="18.00" height="8.00" fill="#000"/>
<rect x="211.00" y="1839.00" width="7.00" height="8.00" fill="#000"/>
<rect x="1651.00" y="1839.00" width="7.00" height="8.00" fill="#000"/>
<rect x="200.00" y="1710.00" width="18.00" height="8.00" fill="#000"/>
<rect x="1640.00" y="1710.00" width="18.00" height="8.00" fill="#000"/>
<rect x="211.00" y="1581.00" width="7.00" height="8.00" fill="#000"/>
<rect x="1651.00" y="1581.00" width="7.00" height="8.00" fill="#000"/>
<rect x="218.00" y="2750.00" width="9.00" height="19.00" fill="#000"/>
<rect x="218.00" y="1589.00" width="9.00" height="19.00" fill="#000"/>
<rect x="363.00" y="2750.00" width="8.00" height="7.50" fill="#000"/>
<rect x="363.00" y="1589.00" width="8.00" height="7.50" fill="#000"/>
<rect x="507.00" y="2750.00" width="8.00" height="19.00" fill="#000"/>
<rect x="507.00" y="1589.00" width="8.00" height="19.00" fill="#000"/>
<rect x="651.00" y="2750.00" width="8.00" height="7.50" fill="#000"/>
<rect x="651.00" y="1589.00" width="8.00" height="7.50" fill="#000"/>
<rect x="795.00" y="2750.00" width="8.00" height="19.00" fill="#000"/>
<rect x="795.00" y="1589.00" width="8.00" height="19.00" fill="#000"/>
<rect x="939.00" y="2750.00" width="8.00" height="7.50" fill="#000"/>
<rect x="939.00" y="1589.00" width="8.00" height="7.50" fill="#000"/>
<rect x="1083.00" y="2750.00" width="8.00" height="19.00" fill="#000"/>
<rect x="1083.00" y="1589.00" width="8.00" height="19.00" fill="#000"/>
<rect x="1227.00" y="2750.00" width="8.00" height="7.50" fill="#000"/>
<rect x="1227.00" y="1589.00" width="8.00" height="7.50" fill="#000"/>
<rect x="1371.00" y="2750.00" width="8.00" height="19.00" fill="#000"/>
<rect x="1371.00" y="1589.00" width="8.00" height="19.00" fill="#000"/>
<rect x="1515.00" y="2750.00" width="8.00" height="7.50" fill="#000"/>
<rect x="1515.00" y="1589.00" width="8.00" height="7.50" fill="#000"/>
<rect x="1658.00" y="2750.00" width="9.00" height="19.00" fill="#000"/>
<rect x="1658.00" y="1589.00" width="9.00" height="19.00" fill="#000"/>
<text x="185.3" y="2761.4" font-size="48" letter-spacing="0.7" text-anchor="end">0</text>
<text x="185.3" y="2503.4" font-size="48" letter-spacing="0.7" text-anchor="end">100</text>
<text x="185.3" y="2245.4" font-size="48" letter-spacing="0.7" text-anchor="end">200</text>
<text x="185.3" y="1987.4" font-size="48" letter-spacing="0.7" text-anchor="end">300</text>
<text x="185.3" y="1729.4" font-size="48" letter-spacing="0.7" text-anchor="end">400</text>
<text x="223.4" y="2821.8" font-size="48" letter-spacing="0.9" text-anchor="middle">0.0</text>
<text x="511.4" y="2821.8" font-size="48" letter-spacing="0.9" text-anchor="middle">0.2</text>
<text x="799.4" y="2821.8" font-size="48" letter-spacing="0.9" text-anchor="middle">0.4</text>
<text x="1087.4" y="2821.8" font-size="48" letter-spacing="0.9" text-anchor="middle">0.6</text>
<text x="1375.4" y="2821.8" font-size="48" letter-spacing="0.9" text-anchor="middle">0.8</text>
<text x="1663.4" y="2821.8" font-size="48" letter-spacing="0.9" text-anchor="middle">1.0</text>
<rect x="253.6" y="2104.8" width="1032.4" height="4" fill="#ff0000"/>
<path d="M219.6 2106.8L254.6 2097.8L254.6 2115.8Z" fill="#ff0000"/>
<path d="M1320.0 2106.8L1285.0 2097.8L1285.0 2115.8Z" fill="#ff0000"/>
<rect x="1346.6" y="2542.1" width="288.0" height="4" fill="#ff8000"/>
<path d="M1315.6 2544.1L1347.6 2535.6L1347.6 2552.6Z" fill="#ff8000"/>
<path d="M1665.6 2544.1L1633.6 2535.6L1633.6 2552.6Z" fill="#ff8000"/>
<text x="662.9" y="2083.4" font-size="55" dx="-1.6">First Stage</text>
<text x="1348.4" y="2614.4" font-size="55" dx="-3.7">Second Stage</text>
<rect x="1344.10" y="1614.10" width="25.80" height="25.80" fill="#515151"/>
<circle cx="1357.00" cy="1687.50" r="14.80" fill="#ef3d3d"/>
<path d="M1355.40 1727.50L1358.60 1727.50L1374.15 1757.90L1339.85 1757.90Z" fill="#1a6fdf"/>
<text transform="scale(0.66,1)" x="2180.41 2219.8 2249.81" y="1645.7" font-size="56.5" stroke="#fff" stroke-width="0.9">OFW</text>
<text transform="scale(0.7,1)" x="2055.52 2097.37 2139.22" y="1705.8" font-size="56.5" stroke="#fff" stroke-width="0.9">KAS</text>
<text transform="scale(0.9,1)" x="1598.59 1633.53 1655.86 1675.08 1703.67 1735.44 1782.9 1811.49" y="1766.4" font-size="56.5" stroke="#fff" stroke-width="0.9">Friedman</text>
<text transform="scale(0.66,1)" x="380.77 450.28 519.79" y="2698.8" font-size="89" stroke="#fff" stroke-width="0.9">NOC</text>
<text transform="scale(0.97,1)" x="769.46 813.27 846.9 880.52 914.15 944.35 967.79 994.66 1014.73 1048.36 1081.99 1125.51" y="2914.8" font-size="61" stroke="#fff" stroke-width="0.9">Conversion <tspan font-size="53" dy="-5">α</tspan></text>
<text x="850.9 877.8 927.6" y="3106.6" font-size="86">(<tspan font-weight="bold">b</tspan>)</text>
<g transform="translate(73.5,0) rotate(-90)" stroke="#fff">
<text transform="scale(1.08,1)" x="-748.08" y="0" font-size="62" stroke-width="1.0">E</text>
<text x="-768.41" y="16.1" font-size="40" stroke-width="0.3">a</text>
<text x="-736.72 -715.18 -684.3" y="0" font-size="62" stroke-width="1.0">(kJ</text>
<text x="-635.48" y="0" font-size="62" stroke-width="1.0">•</text>
<text transform="scale(0.7,1)" x="-849.87 -803.79 -755.53" y="0" font-size="62" stroke-width="1.0">mol</text>
<text x="-504.99 -481.52" y="-25.8" font-size="40" stroke-width="0.3">−1</text>
<text x="-463" y="0" font-size="62" stroke-width="1.0">)</text>
</g>
<g transform="translate(76.0,0) rotate(-90)" stroke="#fff">
<text transform="scale(1.08,1)" x="-2196.97" y="0" font-size="62" stroke-width="1.0">E</text>
<text x="-2332.61" y="16.3" font-size="40" stroke-width="0.3">a</text>
<text x="-2271.52 -2251.18 -2220.6" y="0" dy="-6 6 0" font-size="62" stroke-width="1.0">(kJ</text>
<text x="-2171.28" y="0" font-size="62" stroke-width="1.0">•</text>
<text transform="scale(0.7,1)" x="-3044.44 -2998.79 -2950.53" y="0" font-size="62" stroke-width="1.0">mol</text>
<text x="-2040.09 -2017.32" y="-24.9" font-size="40" stroke-width="0.3">−1</text>
<text x="-1996.6" y="-6" font-size="62" stroke-width="1.0">)</text>
</g>
</svg>
</body></html>
